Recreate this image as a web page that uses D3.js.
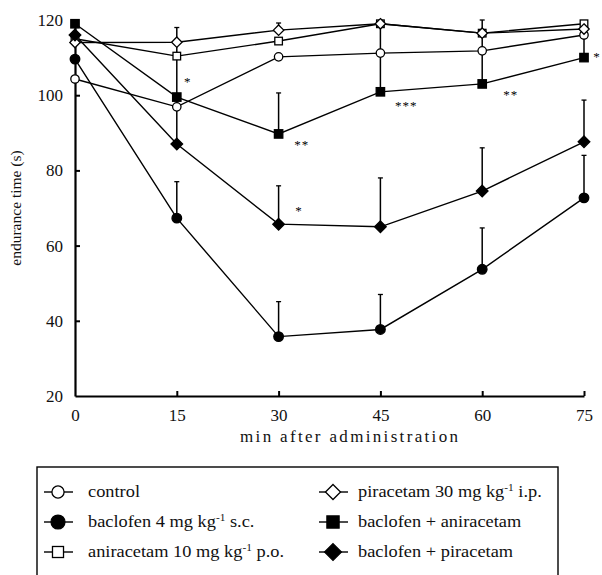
<!DOCTYPE html>
<html><head><meta charset="utf-8">
<script src="https://cdn.jsdelivr.net/npm/d3@7"></script>
<style>
html,body{margin:0;padding:0;background:#fff;}
svg{display:block;font-family:"Liberation Serif","Times New Roman",serif;}
text{font-family:"Liberation Serif","Times New Roman",serif;}
</style></head>
<body>
<svg id="c" width="602" height="575"></svg>
<script>
const times = [0, 15, 30, 45, 60, 75];
const xTicks = [0, 15, 30, 45, 60, 75];
const yTicks = [20, 40, 60, 80, 100, 120];

const control    = [104.3, 96.9, 110.2, 111.2, 111.8, 116.0];
const baclofen   = [109.6, 67.3, 35.8, 37.7, 53.7, 72.7];
const aniracetam = [115.0, 110.4, 114.4, 119.0, 116.5, 119.0];
const piracetam  = [114.0, 114.1, 117.3, 119.0, 116.5, 117.6];
const bacAni     = [119.0, 99.5, 89.7, 100.9, 103.0, 110.0];
const bacPir     = [116.0, 87.0, 65.7, 65.0, 74.5, 87.6];

// upper error bar ends (null = none drawn)
const baclofenErr  = [null, 77.0, 45.1, 47.0, 64.7, 84.0];
const bacPirErr    = [null, 118.0, 75.9, 78.0, 86.0, 98.7];
const bacAniErr    = [null, null, 100.6, 119.0, 120.0, 119.0];
const piracetamErr = [null, null, 119.2, null, null, null];

const sigTimes  = [16.6, 33.4, 33.0, 48.8, 64.2, 76.9];
const sigValues = [104.0, 87.3, 69.7, 97.7, 100.6, 110.7];
const sigLabels = ["*", "**", "*", "***", "**", "*"];

const svg = d3.select("#c");
const x = d3.scaleLinear().domain([0, 75]).range([75, 584]);
const y = d3.scaleLinear().domain([20, 120]).range([396, 20]);

const series = [
  {name: "control", vals: control, err: null, shape: "circle", fill: "#fff"},
  {name: "baclofen", vals: baclofen, err: baclofenErr, shape: "circle", fill: "#000"},
  {name: "aniracetam", vals: aniracetam, err: null, shape: "square", fill: "#fff"},
  {name: "piracetam", vals: piracetam, err: piracetamErr, shape: "diamond", fill: "#fff"},
  {name: "bacAni", vals: bacAni, err: bacAniErr, shape: "square", fill: "#000"},
  {name: "bacPir", vals: bacPir, err: bacPirErr, shape: "diamond", fill: "#000"}
];

// axes
const yAxis = d3.axisLeft(y).tickValues(yTicks).tickSize(-5).tickSizeOuter(0).tickPadding(12);
const gy = svg.append("g").attr("transform", "translate(75,0)").call(yAxis);
const xAxis = d3.axisBottom(x).tickValues(xTicks).tickSize(-5).tickSizeOuter(0).tickPadding(13);
const gx = svg.append("g").attr("transform", "translate(0,396)").call(xAxis);
[gx, gy].forEach(g => {
  g.attr("font-family", null);
  g.select(".domain").attr("stroke", "#000").attr("stroke-width", 2.2);
  g.selectAll(".tick line").attr("stroke", "#000").attr("stroke-width", 2);
  g.selectAll(".tick text").attr("font-size", 17).attr("fill", "#111");
});
gy.selectAll(".tick").filter(d => d === 20 || d === 120).select("line").remove();
gx.selectAll(".tick").filter(d => d === 0).select("line").remove();

svg.append("text").attr("x", 349).attr("y", 442).attr("text-anchor", "middle")
  .attr("font-size", 17).attr("textLength", 218).attr("lengthAdjust", "spacing")
  .attr("fill", "#111").text("min after administration");
svg.append("text").attr("transform", "translate(21,208) rotate(-90)").attr("text-anchor", "middle")
  .attr("font-size", 15.5).attr("fill", "#111").text("endurance time (s)");

const line = d3.line().x((d, i) => x(times[i])).y(d => y(d));
const plot = svg.append("g");

series.forEach(s => {
  plot.append("path").datum(s.vals).attr("d", line).attr("fill", "none")
    .attr("stroke", "#000").attr("stroke-width", 1.4);
});
series.forEach(s => {
  if (!s.err) return;
  s.err.forEach((e, i) => {
    if (e === null) return;
    plot.append("line").attr("x1", x(times[i])).attr("x2", x(times[i]))
      .attr("y1", y(s.vals[i])).attr("y2", y(e)).attr("stroke", "#000").attr("stroke-width", 1.5);
    plot.append("line").attr("x1", x(times[i]) - 2.5).attr("x2", x(times[i]) + 2.5)
      .attr("y1", y(e)).attr("y2", y(e)).attr("stroke", "#000").attr("stroke-width", 1.3);
  });
});

function marker(g, shape, fill, cx, cy, k) {
  const sw = 1.3;
  if (shape === "circle") {
    const r = (fill === "#000" ? 4.8 : 4.2) * k;
    g.append("circle").attr("cx", cx).attr("cy", cy).attr("r", r)
      .attr("fill", fill).attr("stroke", "#000").attr("stroke-width", sw);
  } else if (shape === "square") {
    const h = (fill === "#000" ? 4.2 : 3.8) * k;
    g.append("rect").attr("x", cx - h).attr("y", cy - h).attr("width", 2 * h).attr("height", 2 * h)
      .attr("fill", fill).attr("stroke", "#000").attr("stroke-width", sw);
  } else {
    const h = (fill === "#000" ? 5.8 : 5.2) * k;
    g.append("path").attr("d", `M${cx},${cy - h}L${cx + h},${cy}L${cx},${cy + h}L${cx - h},${cy}Z`)
      .attr("fill", fill).attr("stroke", "#000").attr("stroke-width", sw);
  }
}
series.forEach(s => {
  s.vals.forEach((v, i) => marker(plot, s.shape, s.fill, x(times[i]), y(v), 1));
});

sigLabels.forEach((lab, i) => {
  svg.append("text").attr("x", x(sigTimes[i])).attr("y", y(sigValues[i]) + 6)
    .attr("text-anchor", "middle").attr("font-size", 13).attr("letter-spacing", 1)
    .attr("fill", "#000").text(lab);
});

// legend
svg.append("rect").attr("x", 37).attr("y", 467).attr("width", 521).attr("height", 130)
  .attr("fill", "none").attr("stroke", "#000").attr("stroke-width", 1.4);
const legendItems = [
  {s: series[0], col: 0, row: 0, parts: [["control"]]},
  {s: series[1], col: 0, row: 1, parts: [["baclofen 4 mg kg"], ["-1", true], [" s.c."]]},
  {s: series[2], col: 0, row: 2, parts: [["aniracetam 10 mg kg"], ["-1", true], [" p.o."]]},
  {s: series[3], col: 1, row: 0, parts: [["piracetam 30 mg kg"], ["-1", true], [" i.p."]]},
  {s: series[4], col: 1, row: 1, parts: [["baclofen + aniracetam"]]},
  {s: series[5], col: 1, row: 2, parts: [["baclofen + piracetam"]]}
];
const colX = [58, 333], rowY = [492, 522, 552], textX = [88, 358];
legendItems.forEach(it => {
  const cx = colX[it.col], cy = rowY[it.row];
  const lg = svg.append("g");
  lg.append("line").attr("x1", cx - 14).attr("x2", cx + 15).attr("y1", cy).attr("y2", cy)
    .attr("stroke", "#000").attr("stroke-width", 1.4);
  marker(lg, it.s.shape, it.s.fill, cx, cy, 1.45);
  const t = lg.append("text")
    .attr("transform", `translate(${textX[it.col]},${cy + 5}) scale(1.08,1)`)
    .attr("font-size", 17).attr("fill", "#111");
  it.parts.forEach(p => {
    if (p[1]) {
      t.append("tspan").attr("font-size", 10.5).attr("dy", -6).text(p[0]);
    } else {
      const ts = t.append("tspan").text(p[0]);
      if (t.selectAll("tspan").size() > 1) ts.attr("dy", 6);
    }
  });
});
</script>
</body></html>
